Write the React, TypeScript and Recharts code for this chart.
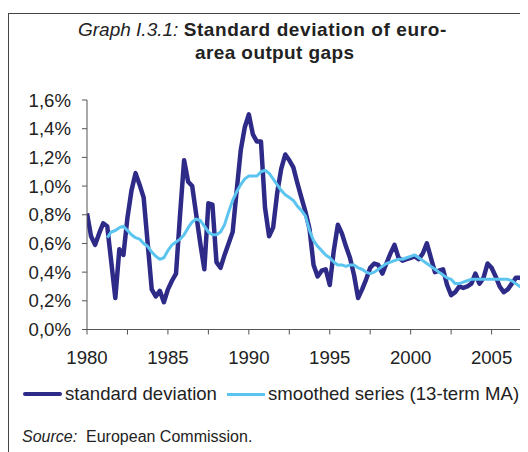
import React from 'react';
import { LineChart, Line, XAxis, YAxis } from 'recharts';

const START_YEAR = 1980;
const sdValues = [
  0.81, 0.65, 0.59, 0.67,
  0.74, 0.72, 0.47, 0.22,
  0.56, 0.52, 0.78, 0.97,
  1.09, 1.01, 0.92, 0.60,
  0.28, 0.23, 0.27, 0.19,
  0.28, 0.34, 0.39, 0.80,
  1.18, 1.03, 1.00, 0.80,
  0.60, 0.42, 0.88, 0.87,
  0.47, 0.43, 0.52, 0.60,
  0.68, 0.97, 1.25, 1.41,
  1.50, 1.36, 1.31, 1.31,
  0.85, 0.65, 0.71, 0.95,
  1.12, 1.22, 1.18, 1.13,
  1.02, 0.92, 0.82, 0.70,
  0.45, 0.37, 0.41, 0.42,
  0.31, 0.55, 0.73, 0.67,
  0.58, 0.50, 0.38, 0.22,
  0.28, 0.35, 0.43, 0.46,
  0.45, 0.39, 0.46, 0.53,
  0.59, 0.50, 0.48, 0.49,
  0.50, 0.51, 0.49, 0.53,
  0.60, 0.50, 0.40, 0.41,
  0.42, 0.31, 0.24, 0.26,
  0.30, 0.29, 0.30, 0.32,
  0.39, 0.32, 0.36, 0.46,
  0.43, 0.37, 0.30, 0.26,
  0.28, 0.32, 0.36, 0.36,
  0.35, 0.34,
];
const maValues: (number | null)[] = [
  null, null, null, null,
  null, 0.64, 0.68, 0.69,
  0.71, 0.72, 0.69, 0.66,
  0.64, 0.63, 0.60, 0.58,
  0.54, 0.51, 0.49, 0.50,
  0.55, 0.59, 0.61, 0.63,
  0.66, 0.71, 0.75, 0.77,
  0.76, 0.72, 0.68, 0.66,
  0.66, 0.68, 0.73, 0.82,
  0.90, 0.96, 1.01, 1.05,
  1.07, 1.07, 1.07, 1.10,
  1.11, 1.09, 1.05, 1.01,
  0.97, 0.94, 0.92, 0.90,
  0.86, 0.83, 0.79, 0.69,
  0.62, 0.58, 0.55, 0.52,
  0.50, 0.47, 0.45, 0.45,
  0.44, 0.45, 0.45, 0.43,
  0.42, 0.40, 0.39, 0.40,
  0.42, 0.44, 0.46, 0.47,
  0.48, 0.49, 0.49, 0.50,
  0.51, 0.52, 0.50, 0.48,
  0.46, 0.44, 0.42, 0.40,
  0.38, 0.36, 0.35, 0.32,
  0.32, 0.33, 0.34, 0.35,
  0.35, 0.35, 0.35, 0.35,
  0.35, 0.35, 0.35, 0.35,
  0.35, 0.34, 0.32, 0.30,
  0.28, 0.26,
];
const xTicks = [1980, 1982.5, 1985, 1987.5, 1990, 1992.5, 1995, 1997.5, 2000, 2002.5, 2005];
const yTicks = [0, 0.2, 0.4, 0.6, 0.8, 1.0, 1.2, 1.4, 1.6];
const seriesNames = ['standard deviation', 'smoothed series (13-term MA)'];

const data = sdValues.map((v, i) => ({ t: START_YEAR + i / 4, sd: v, ma: maValues[i] }));

const DARK = '#2e2a88';
const LIGHT = '#5cc5ef';
const FONT = '"Liberation Sans", Arial, sans-serif';

export default function App() {
  return (
    <div style={{ position: 'relative', width: 520, height: 444, overflow: 'hidden', fontFamily: FONT, color: '#222' }}>
      <div style={{ position: 'absolute', left: 0, top: 5, width: 540, height: 460, borderLeft: '1px solid #444', borderTop: '1px solid #444' }} />
      <div style={{ position: 'absolute', left: 70, top: 11, fontSize: 19, whiteSpace: 'nowrap', lineHeight: '22px' }}>
        <i>Graph I.3.1:</i> <b style={{ letterSpacing: 0.6 }}>Standard deviation of euro-</b>
      </div>
      <div style={{ position: 'absolute', left: 187, top: 34, fontSize: 19, whiteSpace: 'nowrap', lineHeight: '22px' }}>
        <b style={{ letterSpacing: 0.4 }}>area output gaps</b>
      </div>
      <div style={{ position: 'absolute', left: 0, top: 0 }}>
        <LineChart width={520} height={382} data={data} margin={{ top: 92, right: 0, bottom: 0.5, left: 0 }}>
          <XAxis
            dataKey="t"
            type="number"
            domain={[1980, 2007.25]}
            ticks={xTicks}
            tickFormatter={(v: number) => (v % 5 === 0 ? String(v) : '')}
            height={60}
            tickSize={5}
            tickMargin={16}
            stroke="#555"
            tick={{ fill: '#222', fontSize: 18.6, fontFamily: FONT }}
            interval={0}
            allowDataOverflow
          />
          <YAxis
            type="number"
            domain={[0, 1.6]}
            ticks={yTicks}
            tickFormatter={(v: number) => v.toFixed(1).replace('.', ',') + '%'}
            width={79}
            tickSize={5}
            tickMargin={11}
            stroke="#555"
            tick={{ fill: '#222', fontSize: 18.6, fontFamily: FONT }}
            interval={0}
          />
          <Line dataKey="sd" stroke={DARK} strokeWidth={4.5} dot={false} isAnimationActive={false} strokeLinejoin="round" />
          <Line dataKey="ma" stroke={LIGHT} strokeWidth={3} dot={false} isAnimationActive={false} connectNulls={false} strokeLinejoin="round" />
        </LineChart>
      </div>
      <div style={{ position: 'absolute', left: 15, top: 384, width: 39, height: 4, background: DARK, borderRadius: 2 }} />
      <div style={{ position: 'absolute', left: 57, top: 375, fontSize: 18.6, lineHeight: '22px', whiteSpace: 'nowrap' }}>{seriesNames[0]}</div>
      <div style={{ position: 'absolute', left: 219, top: 385, width: 38, height: 3, background: LIGHT }} />
      <div style={{ position: 'absolute', left: 260, top: 375, fontSize: 18.6, lineHeight: '22px', whiteSpace: 'nowrap' }}>{seriesNames[1]}</div>
      <div style={{ position: 'absolute', left: 14, top: 419, fontSize: 16, lineHeight: '20px', whiteSpace: 'nowrap' }}>
        <i>Source:</i>&nbsp; European Commission.
      </div>
    </div>
  );
}
